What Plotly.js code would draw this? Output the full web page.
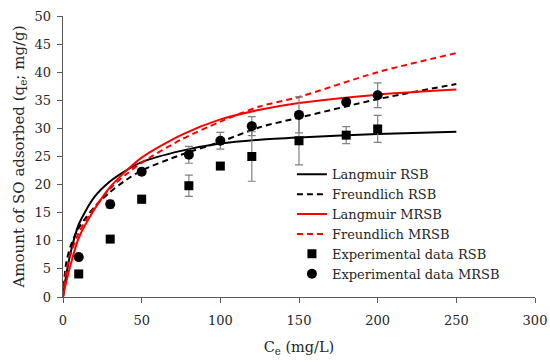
<!DOCTYPE html>
<html>
<head>
<meta charset="utf-8">
<script src="https://cdn.plot.ly/plotly-3.0.1.min.js"></script>
<style>html,body{margin:0;padding:0;background:#fff;}#chart{width:550px;height:362px;}</style>
</head>
<body>
<div id="chart"></div>
<script>
// Experimental data
const expC = [10, 30, 50, 80, 100, 120, 150, 180, 200];
const expRSB = [4.1, 10.3, 17.4, 19.8, 23.3, 25.0, 27.8, 28.8, 29.9];
const errRSB = [0.3, 0.5, 0.7, 1.9, 0.6, 4.4, 4.3, 1.5, 2.4];
const expMRSB = [7.1, 16.5, 22.3, 25.3, 27.8, 30.4, 32.4, 34.7, 35.9];
const errMRSB = [0.3, 0.7, 0.4, 1.5, 1.5, 1.7, 3.2, 0.4, 2.2];

// Model curves
const fitC = [0, 2, 5, 10, 20, 30, 40, 50, 75, 100, 125, 150, 200, 250];
const langRSB = [0, 3.8, 8.1, 12.9, 17.8, 20.6, 22.5, 24.0, 26.0, 27.3, 28.0, 28.4, 29.0, 29.4];
const freuRSB = [0, 6.0, 9.2, 12.3, 16.0, 18.7, 20.8, 22.5, 25.3, 27.6, 30.2, 31.9, 35.2, 37.9];
const langMRSB = [0, 2.6, 5.9, 10.5, 15.6, 19.6, 22.4, 24.8, 28.8, 31.6, 33.3, 34.5, 36.0, 36.9];
const freuMRSB = [0, 4.5, 7.7, 11.4, 15.9, 19.3, 21.8, 23.9, 28.0, 31.2, 33.9, 35.6, 40.0, 43.4];

const serif = "DejaVu Serif, Liberation Serif, serif";
const txt = '#262626';
const lineStyle = (color, dash) => ({color: color, width: 2, dash: dash, shape: 'spline', smoothing: 0.8});

const traces = [
  {x: fitC, y: langRSB, mode: 'lines', name: 'Langmuir RSB', line: lineStyle('#000000', 'solid')},
  {x: fitC, y: freuRSB, mode: 'lines', name: 'Freundlich RSB', line: lineStyle('#000000', '6px,4px')},
  {x: fitC, y: langMRSB, mode: 'lines', name: 'Langmuir MRSB', line: lineStyle('#ff0000', 'solid')},
  {x: fitC, y: freuMRSB, mode: 'lines', name: 'Freundlich MRSB', line: lineStyle('#ff0000', '6px,4px')},
  {x: expC, y: expRSB, mode: 'markers', name: 'Experimental data RSB',
   marker: {symbol: 'square', size: 9, color: '#000000'},
   error_y: {type: 'data', array: errRSB, visible: true, color: '#808080', thickness: 1.2, width: 4}},
  {x: expC, y: expMRSB, mode: 'markers', name: 'Experimental data MRSB',
   marker: {symbol: 'circle', size: 10, color: '#000000'},
   error_y: {type: 'data', array: errMRSB, visible: true, color: '#808080', thickness: 1.2, width: 4}}
];

const layout = {
  width: 550, height: 362,
  margin: {l: 63, r: 15, t: 16, b: 65},
  paper_bgcolor: '#ffffff', plot_bgcolor: '#ffffff',
  font: {family: serif, size: 13, color: txt},
  showlegend: true,
  legend: {x: 0.485, y: 0.49, xanchor: 'left', yanchor: 'top', bgcolor: 'rgba(255,255,255,0)',
           font: {family: serif, size: 13, color: txt}, tracegroupgap: 0},
  xaxis: {
    range: [0, 300], tickvals: [0, 50, 100, 150, 200, 250, 300],
    showgrid: false, zeroline: false, showline: true, linecolor: '#595959', linewidth: 1.3,
    ticks: 'outside', ticklen: 5, tickcolor: '#595959', ticklabelstandoff: 6,
    tickfont: {family: serif, size: 13, color: txt},
    title: {text: 'C<sub>e</sub> (mg/L)', font: {family: serif, size: 14.5, color: txt}, standoff: 15}
  },
  yaxis: {
    range: [0, 50], tickvals: [0, 5, 10, 15, 20, 25, 30, 35, 40, 45, 50],
    showgrid: false, zeroline: false, showline: true, linecolor: '#595959', linewidth: 1.3,
    ticks: 'outside', ticklen: 5, tickcolor: '#595959', ticklabelstandoff: 3,
    tickfont: {family: serif, size: 13, color: txt},
    title: {text: 'Amount of SO adsorbed (q<sub>e</sub>; mg/g)', font: {family: serif, size: 15, color: txt}, standoff: 6}
  }
};

Plotly.newPlot('chart', traces, layout, {displayModeBar: false, staticPlot: true});
</script>
</body>
</html>
